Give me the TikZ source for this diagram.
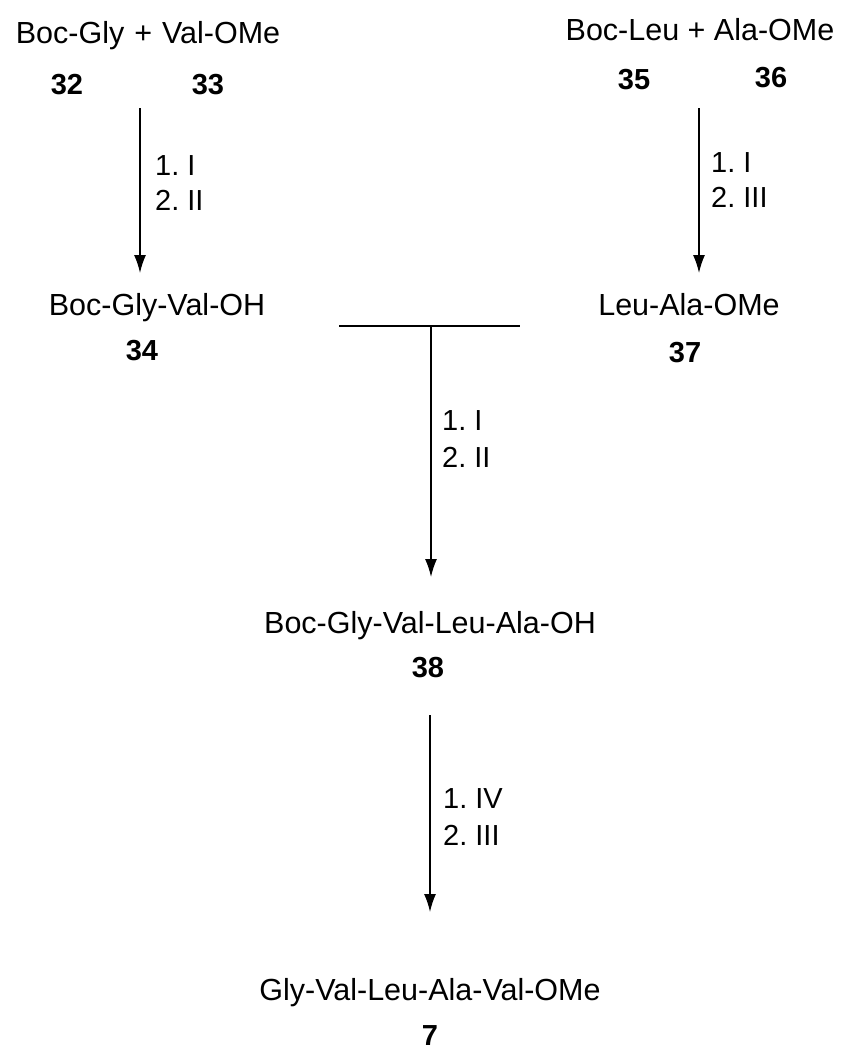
\documentclass[tikz,border=0pt]{standalone}
\usepackage{fontspec}
\setmainfont{Liberation Sans}
\usetikzlibrary{arrows.meta}
\frenchspacing
\begin{document}
\begin{tikzpicture}[x=1pt,y=-1pt,
  txt/.style={inner sep=0pt,anchor=base,font=\fontsize{30.5}{34}\selectfont},
  num/.style={inner sep=0pt,anchor=base,font=\fontsize{29}{34}\selectfont\bfseries},
  reag/.style={inner sep=0pt,anchor=base west,font=\fontsize{29}{34}\selectfont},
  rxn/.style={line width=1.5pt,-{Latex[length=18pt,width=12pt]}},
  bar/.style={line width=1.5pt}]
\useasboundingbox (0,0) rectangle (842,1050);
% left branch
\node[txt] (l1) at (148,43) {Boc-Gly\hspace{1.5pt} + \hspace{1.5pt}Val-OMe};
\node[num] (n32) at (67,94) {32};
\node[num] (n33) at (208,94) {33};
\coordinate (a1s) at (140,108);
\coordinate (a1e) at (140,273);
\draw[rxn] (a1s) -- (a1e);
\node[reag] (r1a) at (155,175) {1. I};
\node[reag] (r1b) at (155,210) {2. II};
\node[txt] (l2) at (157,315) {Boc-Gly-Val-OH};
\node[num] (n34) at (142,360) {34};
% right branch
\node[txt] (r1) at (700,40) {Boc-Leu + Ala-OMe};
\node[num] (n35) at (634,89) {35};
\node[num] (n36) at (771,87) {36};
\coordinate (a2s) at (699,108);
\coordinate (a2e) at (699,273);
\draw[rxn] (a2s) -- (a2e);
\node[reag] (r2a) at (711,172) {1. I};
\node[reag] (r2b) at (711,207) {2. III};
\node[txt] (r2) at (689,315) {Leu-Ala-OMe};
\node[num] (n37) at (685,362) {37};
% coupling
\coordinate (bl) at (339,326);
\coordinate (br) at (520,326);
\coordinate (bm) at (431,326);
\draw[bar] (bl) -- (br);
\coordinate (a3e) at (431,577);
\draw[rxn] (bm) -- (a3e);
\node[reag] (r3a) at (442,430) {1. I};
\node[reag] (r3b) at (442,467) {2. II};
\node[txt] (c38) at (430,633) {Boc-Gly-Val-Leu-Ala-OH};
\node[num] (n38) at (428,677) {38};
% final
\coordinate (a4s) at (430,715);
\coordinate (a4e) at (430,912);
\draw[rxn] (a4s) -- (a4e);
\node[reag] (r4a) at (443,808) {1. IV};
\node[reag] (r4b) at (443,845) {2. III};
\node[txt] (c7) at (430,1000) {Gly-Val-Leu-Ala-Val-OMe};
\node[num] (n7) at (430,1045) {7};
\end{tikzpicture}
\end{document}
